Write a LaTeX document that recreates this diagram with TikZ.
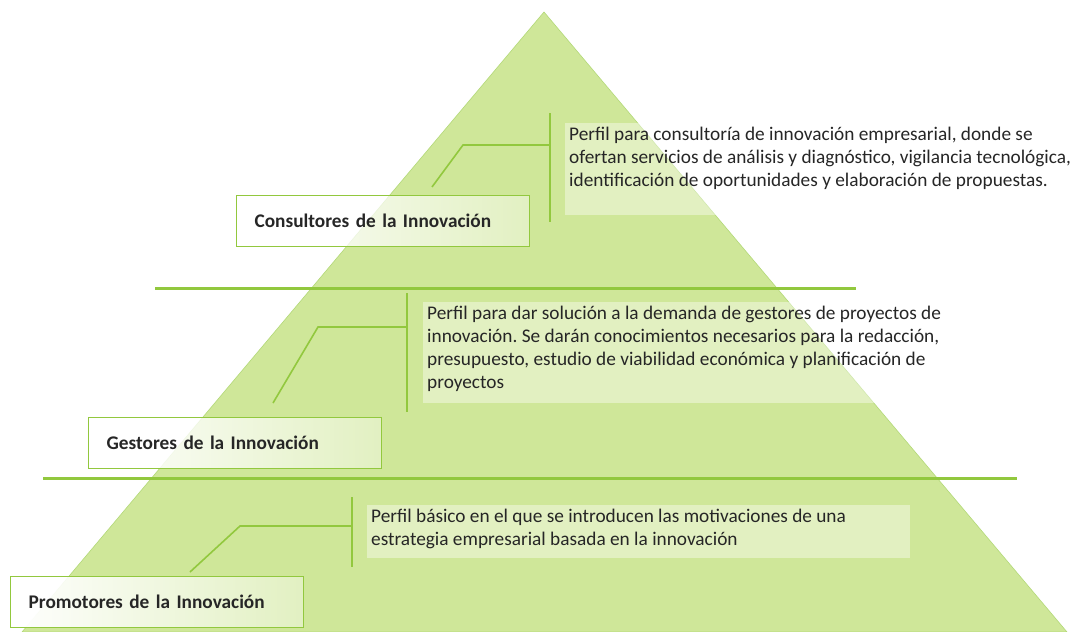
\documentclass[tikz,border=0pt]{standalone}
\usepackage{fontspec}
\setmainfont{Carlito}
\frenchspacing
\usetikzlibrary{fadings}
\definecolor{pyrfill}{RGB}{207,231,153}
\definecolor{pyrline}{RGB}{146,200,62}
\definecolor{txtgray}{RGB}{38,38,38}
\tikzfading[name=labelfade, left color=transparent!0, right color=transparent!60]

\begin{document}
\begin{tikzpicture}[x=1pt,y=-1pt,
    bar/.style={draw=pyrline,line width=3pt},
    link/.style={draw=pyrline,line width=1.6pt},
    levelbox/.style={anchor=north west,draw=pyrline,line width=1.3pt,
        preaction={fill=white,path fading=labelfade},
        minimum width=293pt,minimum height=51pt,text width=257pt,inner xsep=18pt,
        align=left,text=txtgray,font=\bfseries\fontsize{19.3}{22}\selectfont},
    descbox/.style={anchor=north west,fill=white,fill opacity=0.4,text opacity=1,
        inner xsep=4pt,inner ysep=4pt,text=txtgray,
        font=\fontsize{19.3}{23}\selectfont}]
    \fill[white] (0,0) rectangle (1088,632);
    \useasboundingbox (0,0) rectangle (1088,632);

    %pyramid
    \draw[draw=pyrline!70,line width=0.6pt,fill=pyrfill] (544,12) -- (1067,632) -- (22,632) -- cycle;

    %level lines
    \draw[bar] (155,288) -- (856,288);
    \draw[bar] (43,478) -- (1017,478);

    %consultores
    \node[levelbox] (cons) at (236,195) {Consultores de la Innovación};
    \node[descbox] (consdesc) at (565,123) {\parbox[t][84pt][t]{507pt}{\raggedright
        Perfil para consultoría de innovación empresarial, donde se\\
        ofertan servicios de análisis y diagnóstico, vigilancia tecnológica,\\
        identificación de oportunidades y elaboración de propuestas.}};
    \coordinate (cons tip) at (432,187);
    \coordinate (cons bar) at (550,145);
    \draw[link] (550,113) -- (550,222);
    \draw[link] (cons tip) -- (463,145) -- (cons bar);

    %gestores
    \node[levelbox] (gest) at (88,417) {Gestores de la Innovación};
    \node[descbox] (gestdesc) at (423,302) {\parbox[t][93pt][t]{520pt}{\raggedright
        Perfil para dar solución a la demanda de gestores de proyectos de\\
        innovación. Se darán conocimientos necesarios para la redacción,\\
        presupuesto, estudio de viabilidad económica y planificación de\\
        proyectos}};
    \coordinate (gest tip) at (273,403);
    \coordinate (gest bar) at (407,327);
    \draw[link] (407,293) -- (407,412);
    \draw[link] (gest tip) -- (318,327) -- (gest bar);

    %promotores
    \node[levelbox] (prom) at (10,576) {Promotores de la Innovación};
    \node[descbox] (promdesc) at (367,505) {\parbox[t][45pt][t]{535pt}{\raggedright
        Perfil básico en el que se introducen las motivaciones de una\\
        estrategia empresarial basada en la innovación}};
    \coordinate (prom tip) at (190,572);
    \coordinate (prom bar) at (352,526);
    \draw[link] (352,497) -- (352,567);
    \draw[link] (prom tip) -- (240,526) -- (prom bar);
\end{tikzpicture}
\end{document}
